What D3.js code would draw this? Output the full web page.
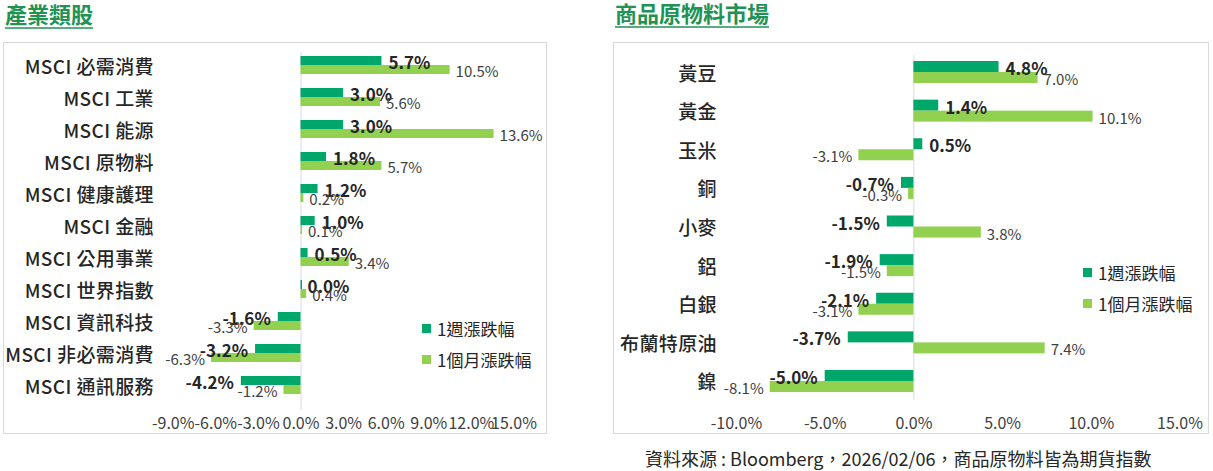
<!DOCTYPE html>
<html>
<head>
<meta charset="utf-8">
<script src="https://cdn.jsdelivr.net/npm/d3@7"></script>
<style>
  body { margin: 0; background: #fff; }
  svg { display: block; font-family: "Noto Sans CJK TC", "Noto Sans", sans-serif; }
</style>
</head>
<body>
<div id="chart"></div>
<script>
// data (percent)
const sectorNames = ["MSCI 必需消費", "MSCI 工業", "MSCI 能源", "MSCI 原物料", "MSCI 健康護理", "MSCI 金融",
    "MSCI 公用事業", "MSCI 世界指數", "MSCI 資訊科技", "MSCI 非必需消費", "MSCI 通訊服務"];
const sectorWeek = [5.7, 3.0, 3.0, 1.8, 1.2, 1.0, 0.5, 0.0, -1.6, -3.2, -4.2];
const sectorMonth = [10.5, 5.6, 13.6, 5.7, 0.2, 0.1, 3.4, 0.4, -3.3, -6.3, -1.2];
const sectorTicks = [-9, -6, -3, 0, 3, 6, 9, 12, 15];

const commodityNames = ["黃豆", "黃金", "玉米", "銅", "小麥", "鋁", "白銀", "布蘭特原油", "鎳"];
const commodityWeek = [4.8, 1.4, 0.5, -0.7, -1.5, -1.9, -2.1, -3.7, -5.0];
const commodityMonth = [7.0, 10.1, -3.1, -0.3, 3.8, -1.5, -3.1, 7.4, -8.1];
const commodityTicks = [-10, -5, 0, 5, 10, 15];

const seriesNames = ["1週漲跌幅", "1個月漲跌幅"];

const darkGreen = "#00a76b",
    lightGreen = "#92d050",
    titleGreen = "#1f9254",
    textColor = "#262626";

const svg = d3.select("#chart").append("svg")
    .attr("width", 1213)
    .attr("height", 471);

function barPanel(opt) {
    let g = svg.append("g");

    // title with underline
    let title = g.append("text")
        .attr("x", opt.frame[0] + 2)
        .attr("y", opt.titleY)
        .attr("fill", titleGreen)
        .attr("font-size", "22px")
        .attr("font-weight", "bold")
        .text(opt.title);
    let tw = title.node().getComputedTextLength();
    g.append("line")
        .attr("x1", opt.frame[0] + 2)
        .attr("x2", opt.frame[0] + 2 + tw)
        .attr("y1", opt.titleY + 5)
        .attr("y2", opt.titleY + 5)
        .attr("stroke", titleGreen)
        .attr("stroke-width", 1.5);

    // frame
    g.append("rect")
        .attr("x", opt.frame[0] + 0.5)
        .attr("y", opt.frame[1] + 0.5)
        .attr("width", opt.frame[2] - opt.frame[0])
        .attr("height", opt.frame[3] - opt.frame[1])
        .attr("fill", "none")
        .attr("stroke", "#d9d9d9");

    let x = d3.scaleLinear()
        .domain(d3.extent(opt.ticks))
        .range(opt.xRange);

    let y = d3.scaleBand()
        .domain(opt.names)
        .range(opt.yRange);

    let bh = opt.barH;

    // zero line
    g.append("line")
        .attr("x1", x(0) + 0.5)
        .attr("x2", x(0) + 0.5)
        .attr("y1", opt.zeroLine[0])
        .attr("y2", opt.zeroLine[1])
        .attr("stroke", "#d9d9d9");

    // category labels
    g.append("g")
        .selectAll("text")
        .data(opt.names)
        .enter().append("text")
        .attr("x", opt.labelX)
        .attr("y", d => y(d) + y.bandwidth() / 2)
        .attr("text-anchor", "end")
        .attr("dominant-baseline", "central")
        .attr("font-size", "19px")
        .attr("font-weight", 500)
        .attr("letter-spacing", "0.4px")
        .attr("fill", textColor)
        .text(d => d);

    let rows = opt.names.map((n, i) => ({ name: n, week: opt.week[i], month: opt.month[i] }));

    // bars
    let row = g.append("g")
        .selectAll("g")
        .data(rows)
        .enter().append("g")
        .attr("transform", d => "translate(0," + (y(d.name) + y.bandwidth() / 2) + ")");

    row.append("rect")
        .attr("x", d => x(Math.min(0, d.week)))
        .attr("y", -bh)
        .attr("width", d => Math.max(Math.abs(x(d.week) - x(0)), 1.5))
        .attr("height", bh)
        .attr("fill", darkGreen);

    row.append("rect")
        .attr("x", d => x(Math.min(0, d.month)))
        .attr("y", 0)
        .attr("width", d => Math.max(Math.abs(x(d.month) - x(0)), 1.5))
        .attr("height", bh)
        .attr("fill", lightGreen);

    // value labels
    row.append("text")
        .attr("x", d => x(d.week) + (d.week < 0 ? -7 : 7))
        .attr("y", -bh / 2 + 1)
        .attr("text-anchor", d => d.week < 0 ? "end" : "start")
        .attr("dominant-baseline", "central")
        .attr("font-size", "17px")
        .attr("font-weight", "bold")
        .attr("fill", textColor)
        .text(d => d.week.toFixed(1) + "%");

    row.append("text")
        .attr("x", d => x(d.month) + (d.month < 0 ? -6 : 6))
        .attr("y", bh / 2 + 1)
        .attr("text-anchor", d => d.month < 0 ? "end" : "start")
        .attr("dominant-baseline", "central")
        .attr("font-size", "15px")
        .attr("fill", "#404040")
        .text(d => d.month.toFixed(1) + "%");

    // x axis (labels only)
    let axis = g.append("g")
        .attr("transform", "translate(0," + opt.axisY + ")")
        .call(d3.axisBottom(x).tickValues(opt.ticks).tickSize(0).tickPadding(0)
            .tickFormat(d => d.toFixed(1) + "%"));
    axis.select(".domain").remove();
    axis.selectAll("text")
        .attr("y", 0)
        .attr("dy", null)
        .attr("dominant-baseline", "central")
        .attr("font-family", "\"Noto Sans CJK TC\", sans-serif")
        .attr("font-size", "16px")
        .attr("fill", "#404040");

    // legend
    let legend = g.append("g")
        .selectAll("g")
        .data(seriesNames)
        .enter().append("g")
        .attr("transform", (d, i) => "translate(" + opt.legend[0] + "," + (opt.legend[1] + i * 31) + ")");

    legend.append("rect")
        .attr("x", 0)
        .attr("y", -4.5)
        .attr("width", 9)
        .attr("height", 9)
        .attr("fill", (d, i) => i == 0 ? darkGreen : lightGreen);

    legend.append("text")
        .attr("x", 15)
        .attr("y", 0)
        .attr("dominant-baseline", "central")
        .attr("font-size", "17px")
        .attr("fill", textColor)
        .text(d => d);
}

barPanel({
    title: "產業類股",
    titleY: 23,
    frame: [3, 42, 546, 433],
    names: sectorNames,
    week: sectorWeek,
    month: sectorMonth,
    ticks: sectorTicks,
    xRange: [172.7, 513.5],
    yRange: [49, 401],
    barH: 9,
    zeroLine: [52, 410],
    labelX: 154,
    axisY: 422,
    legend: [422, 328.5]
});

barPanel({
    title: "商品原物料市場",
    titleY: 22,
    frame: [613, 42, 1208, 433],
    names: commodityNames,
    week: commodityWeek,
    month: commodityMonth,
    ticks: commodityTicks,
    xRange: [736, 1179.5],
    yRange: [52.7, 400.3],
    barH: 11,
    zeroLine: [55, 400],
    labelX: 717,
    axisY: 422,
    legend: [1083, 272.5]
});

// source note
svg.append("text")
    .attr("x", 645)
    .attr("y", 458)
    .attr("dominant-baseline", "central")
    .attr("font-size", "18px")
    .attr("fill", textColor)
    .text("資料來源 : Bloomberg，2026/02/06，商品原物料皆為期貨指數");
</script>
</body>
</html>
